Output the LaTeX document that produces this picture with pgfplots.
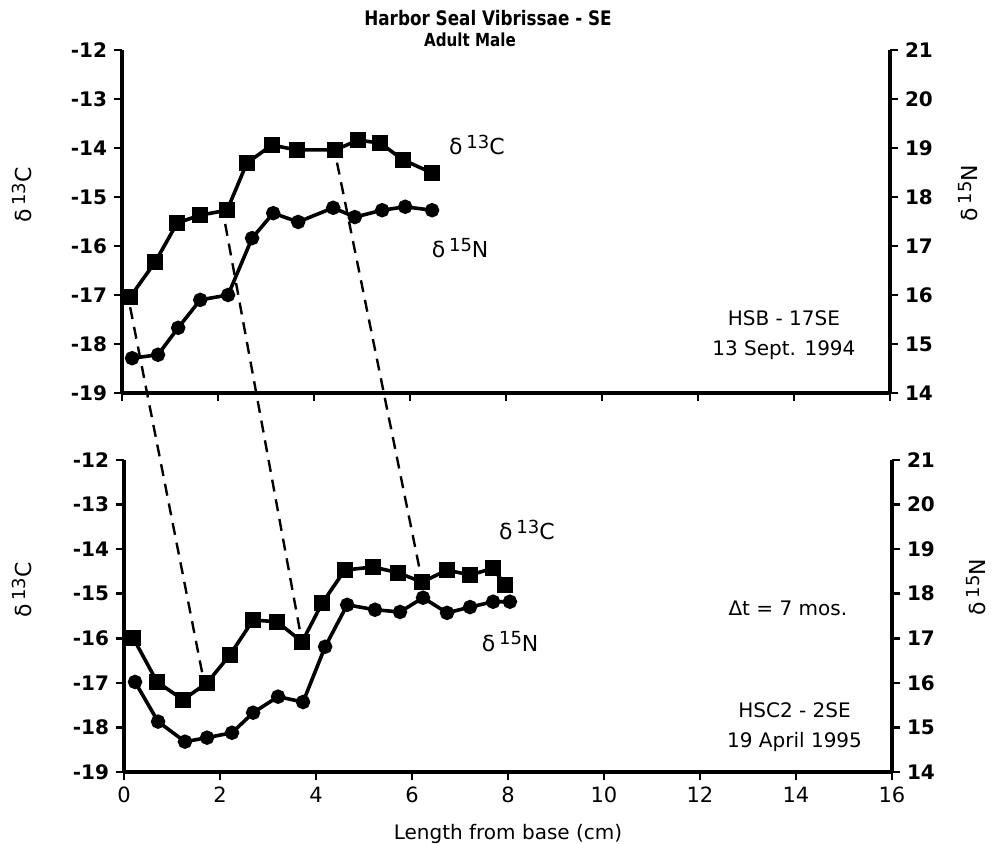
\documentclass[border=0pt]{standalone}
\usepackage{fontspec}
\setmainfont{DejaVu Sans}
\newfontfamily\condfont{DejaVu Sans}[FakeStretch=0.84]
\usepackage{pgfplots}
\pgfplotsset{compat=1.18}

\pgfplotstableread{
x y
0.17 -17.04
0.69 -16.33
1.15 -15.53
1.63 -15.37
2.19 -15.27
2.60 -14.31
3.12 -13.94
3.64 -14.04
4.44 -14.04
4.92 -13.84
5.38 -13.90
5.85 -14.24
6.46 -14.51
}\topC
\pgfplotstableread{
x y
0.21 14.71
0.75 14.78
1.17 15.33
1.63 15.90
2.21 16.00
2.71 17.16
3.15 17.67
3.67 17.49
4.40 17.78
4.85 17.59
5.42 17.73
5.90 17.80
6.46 17.73
}\topN
\pgfplotstableread{
x y
0.19 -15.99
0.69 -16.98
1.23 -17.38
1.73 -17.00
2.21 -16.37
2.69 -15.59
3.19 -15.63
3.71 -16.08
4.13 -15.21
4.60 -14.47
5.19 -14.40
5.71 -14.53
6.21 -14.74
6.73 -14.47
7.21 -14.58
7.69 -14.43
7.94 -14.80
}\botC
\pgfplotstableread{
x y
0.23 16.02
0.71 15.13
1.27 14.68
1.73 14.77
2.25 14.88
2.69 15.33
3.21 15.69
3.73 15.57
4.19 16.81
4.65 17.75
5.23 17.64
5.75 17.59
6.23 17.91
6.73 17.57
7.21 17.70
7.69 17.82
8.04 17.82
}\botN

\newcommand{\iso}[2]{δ\,\raisebox{0.55ex}{\fontsize{9}{9}\selectfont #1}#2}

\pgfplotsset{
  panel/.style={
    scale only axis, width=384pt, xmin=0, xmax=16,
    axis line style={line width=1.6pt, -},
    tick style={line width=1.3pt, black},
    tick align=outside, major tick length=4pt,
    xtick={0,2,...,16},
    /pgf/number format/assume math mode=true,
    yticklabel style={font=\bfseries\fontsize{10}{12}\selectfont},
    xticklabel style={font=\fontsize{10.5}{12}\selectfont},
    clip=false,
  },
  cser/.style={black, line width=1.8pt, mark=square*, mark size=3pt},
  nser/.style={black, line width=1.8pt, mark=*, mark size=2.7pt},
}

\begin{document}
\begin{tikzpicture}
\path[use as bounding box] (0,0) rectangle (498.5pt,422pt);

% ---------- top panel ----------
\begin{axis}[panel, at={(61pt,225.5pt)}, anchor=south west, height=171.5pt,
  ymin=-19, ymax=-12, ytick={-19,...,-12},
  axis x line*=bottom, axis y line*=left, xticklabels={}]
  \addplot[cser] table[x=x,y=y] {\topC};
  \coordinate (t1) at (axis cs:0.17,-17.25);
  \coordinate (t2) at (axis cs:2.15,-15.55);
  \coordinate (t3) at (axis cs:4.48,-14.30);
  \node[anchor=west, font=\fontsize{11}{13}\selectfont] at (axis cs:6.67,-13.94) {\iso{13}{C}};
  \node[anchor=west, font=\fontsize{11}{13}\selectfont] at (axis cs:6.31,-16.04) {\iso{15}{N}};
  \node[align=center, font=\fontsize{10}{15}\selectfont] at (axis cs:13.79,-17.82) {HSB - 17SE\\13 Sept. 1994};
\end{axis}
\begin{axis}[panel, at={(61pt,225.5pt)}, anchor=south west, height=171.5pt,
  ymin=14, ymax=21, ytick={14,...,21},
  axis x line=none, axis y line*=right]
  \addplot[nser] table[x=x,y=y] {\topN};
\end{axis}

% ---------- bottom panel ----------
\begin{axis}[panel, at={(62pt,36pt)}, anchor=south west, height=156pt,
  ymin=-19, ymax=-12, ytick={-19,...,-12},
  axis x line*=bottom, axis y line*=left,
  xlabel={Length from base (cm)},
  xlabel style={font=\fontsize{10}{12}\selectfont, yshift=-4pt}]
  \addplot[cser] table[x=x,y=y] {\botC};
  \coordinate (b1) at (axis cs:1.63,-16.78);
  \coordinate (b2) at (axis cs:3.67,-15.86);
  \coordinate (b3) at (axis cs:6.17,-14.51);
  \node[anchor=west, font=\fontsize{11}{13}\selectfont] at (axis cs:7.67,-13.57) {\iso{13}{C}};
  \node[anchor=west, font=\fontsize{11}{13}\selectfont] at (axis cs:7.31,-16.08) {\iso{15}{N}};
  \node[font=\fontsize{10}{12}\selectfont] at (axis cs:13.83,-15.33) {Δt = 7 mos.};
  \node[align=center, font=\fontsize{10}{15}\selectfont] at (axis cs:13.97,-18.0) {HSC2 - 2SE\\19 April 1995};
\end{axis}
\begin{axis}[panel, at={(62pt,36pt)}, anchor=south west, height=156pt,
  ymin=14, ymax=21, ytick={14,...,21},
  axis x line=none, axis y line*=right]
  \addplot[nser] table[x=x,y=y] {\botN};
\end{axis}

% ---------- connecting dashed lines ----------
\draw[black, line width=1.2pt, dash pattern=on 6pt off 4pt] (t1) -- (b1);
\draw[black, line width=1.2pt, dash pattern=on 6pt off 4pt] (t2) -- (b2);
\draw[black, line width=1.2pt, dash pattern=on 6pt off 4pt] (t3) -- (b3);

% ---------- titles and axis labels ----------
\node[font=\condfont\bfseries\fontsize{10}{12}\selectfont] at (244pt,413pt) {Harbor Seal Vibrissae - SE};
\node[font=\condfont\bfseries\fontsize{9}{11}\selectfont] at (235pt,402pt) {Adult Male};
\node[rotate=90, font=\fontsize{11}{13}\selectfont] at (11pt,324.5pt) {\iso{13}{C}};
\node[rotate=90, font=\fontsize{11}{13}\selectfont] at (11pt,127pt) {\iso{13}{C}};
\node[rotate=90, font=\fontsize{11}{13}\selectfont] at (484pt,325.5pt) {\iso{15}{N}};
\node[rotate=90, font=\fontsize{11}{13}\selectfont] at (488pt,128.5pt) {\iso{15}{N}};
\end{tikzpicture}
\end{document}
